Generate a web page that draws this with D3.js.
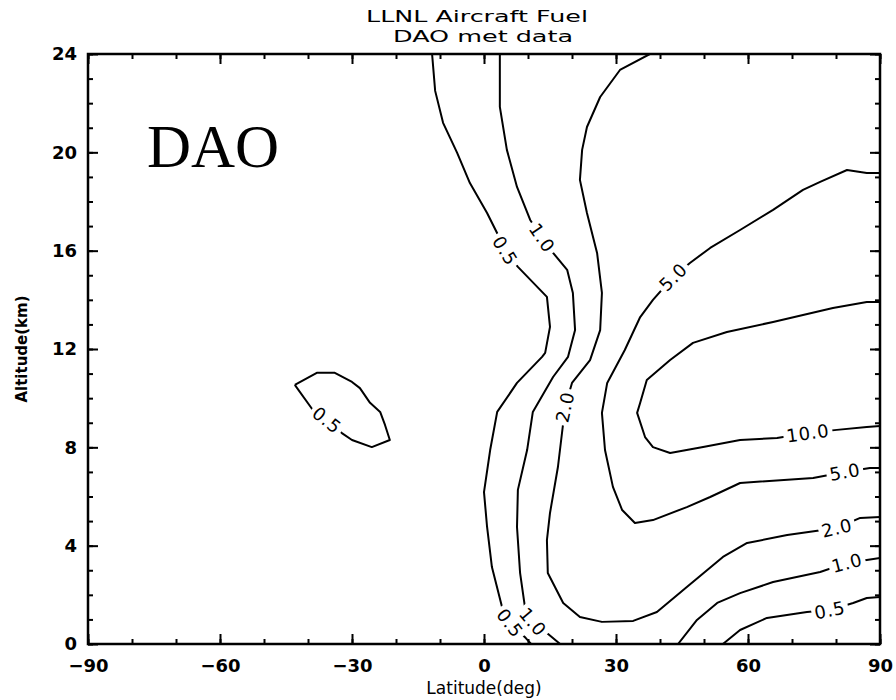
<!DOCTYPE html>
<html>
<head>
<meta charset="utf-8">
<script src="https://cdn.jsdelivr.net/npm/d3@7"></script>
<style>
  html, body { margin: 0; padding: 0; background: #fff; }
  svg { display: block; }
</style>
</head>
<body>
<svg id="chart" width="896" height="700"></svg>
<script>
// ---------------- data (latitude deg, altitude km) ----------------
const titleLines = ["LLNL Aircraft Fuel", "DAO met data"];
const xTicks = [-90, -60, -30, 0, 30, 60, 90];
const yTicks = [0, 4, 8, 12, 16, 20, 24];
const xLabel = "Latitude(deg)";
const yLabel = "Altitude(km)";
const panelLabel = "DAO";

const c05main = [[-11.8,24],[-11.1,22.5],[-9.3,21.2],[-6.1,19.98],[-3.2,18.75],[0.7,17.53],[3.2,16.64],[4.8,16.0],[7.7,15.34],[14.3,14.12],[15.0,12.9],[13.9,11.84],[13.2,11.68],[7.5,10.62],[3.0,9.44],[1.4,7.89],[0,6.18],[0.7,4.76],[1.8,3.13],[4.1,1.51],[5.9,0.85],[9.5,0.24],[10.7,0]];
const c10main = [[3.6,24],[3.6,21.85],[5.2,20.1],[7.5,18.59],[10.5,17.25],[13.2,16.52],[15.7,15.91],[18.9,15.22],[20.2,14.28],[20.7,12.77],[19.1,11.68],[15.7,10.86],[11.1,9.44],[9.8,7.89],[7.7,6.27],[7.5,4.76],[8.2,2.89],[9.3,1.51],[11.1,0.9],[14.3,0.45],[17.3,0]];
const c20 = [[37.7,24],[30.9,23.35],[26.4,22.25],[23.4,21.03],[22.3,20.1],[21.8,18.88],[23.4,17.53],[25.7,15.91],[26.8,14.28],[26.4,12.77],[24.1,11.55],[20.0,10.62],[18.4,9.64],[18.0,8.99],[16.8,7.2],[15.0,5.33],[14.3,4.23],[14.5,2.89],[18.0,1.67],[21.8,1.1],[26.8,0.9],[33.9,0.94],[39.3,1.3],[46.1,2.32],[54.3,3.54],[59.8,4.11],[68.9,4.43],[80.2,4.72],[85.5,5.13],[90,5.17]];
const c50 = [[90,19.16],[87.0,19.16],[82.5,19.28],[76.4,18.8],[72.5,18.47],[65.7,17.66],[58.2,16.84],[51.4,16.11],[46.8,15.5],[43.0,14.93],[38.4,14.0],[35.5,13.3],[32.0,11.96],[28.0,10.62],[26.8,9.4],[27.5,7.89],[29.3,6.39],[31.4,5.45],[34.3,4.92],[38.4,5.04],[46.1,5.57],[51.4,5.98],[58.2,6.55],[74.8,6.75],[82.0,7.0],[87.7,7.16],[90,7.16]];
const c100 = [[90,13.91],[87.0,13.91],[79.3,13.67],[65.7,13.1],[55.2,12.69],[47.5,12.25],[42.3,11.55],[37.0,10.74],[35.5,9.81],[34.8,9.4],[36.6,8.42],[38.4,8.01],[42.3,7.77],[49.8,8.01],[58.2,8.3],[66.6,8.38],[73.6,8.58],[80.2,8.71],[87.0,8.83],[90,8.87]];
const c10right = [[44.1,0],[48.4,0.98],[53.0,1.67],[58.2,2.07],[65.7,2.52],[76.4,2.93],[82.5,3.3],[87.0,3.42],[90,3.5]];
const c05right = [[54.3,0],[58.2,0.57],[64.3,1.06],[73.4,1.3],[78.6,1.38],[83.9,1.67],[87.0,1.87],[90,1.91]];
const c05island = [[-43.0,10.54],[-38.0,11.03],[-33.9,11.03],[-30.0,10.66],[-28.2,10.41],[-25.9,9.81],[-23.6,9.44],[-22.5,8.91],[-21.4,8.3],[-25.5,8.01],[-30.0,8.3],[-32.3,8.58],[-35.7,9.11],[-38.9,9.52]];

// level text and the index of the point where each label sits
const contours = [
  { level: "0.5",  pts: c05main,   labelAt: [7, 20], closed: false },
  { level: "1.0",  pts: c10main,   labelAt: [5, 18], closed: false },
  { level: "2.0",  pts: c20,       labelAt: [12, 27], closed: false },
  { level: "5.0",  pts: c50,       labelAt: [9, 24], closed: false },
  { level: "10.0", pts: c100,      labelAt: [16], closed: false },
  { level: "1.0",  pts: c10right,  labelAt: [6], closed: false },
  { level: "0.5",  pts: c05right,  labelAt: [4], closed: false },
  { level: "0.5",  pts: c05island, labelAt: [12], closed: true }
];

// ---------------- layout ----------------
const W = 896, H = 700;
const m = { left: 88, right: 16, top: 54, bottom: 56 };
const pw = W - m.left - m.right;   // 792
const ph = H - m.top - m.bottom;   // 590

const svg = d3.select("#chart");
const x = d3.scaleLinear().domain([-90, 90]).range([m.left, m.left + pw]);
const y = d3.scaleLinear().domain([0, 24]).range([m.top + ph, m.top]);

const tickFont = "'DejaVu Sans', 'Liberation Sans', sans-serif";

// title
svg.append("text").attr("x", x(0) - 7).attr("y", 22)
  .attr("text-anchor", "middle").attr("font-family", tickFont)
  .attr("font-size", 16).attr("textLength", 222).attr("lengthAdjust", "spacingAndGlyphs")
  .text(titleLines[0]);
svg.append("text").attr("x", x(0) - 1).attr("y", 42)
  .attr("text-anchor", "middle").attr("font-family", tickFont)
  .attr("font-size", 16).attr("textLength", 180).attr("lengthAdjust", "spacingAndGlyphs")
  .text(titleLines[1]);

// clip
svg.append("defs").append("clipPath").attr("id", "plotclip")
  .append("rect").attr("x", m.left).attr("y", m.top).attr("width", pw).attr("height", ph);

// contour lines
const line = d3.line().x(d => x(d[0])).y(d => y(d[1]));
const gLines = svg.append("g").attr("clip-path", "url(#plotclip)");
contours.forEach(c => {
  gLines.append("path")
    .attr("d", line(c.closed ? c.pts.concat([c.pts[0]]) : c.pts))
    .attr("fill", "none").attr("stroke", "#000").attr("stroke-width", 2)
    .attr("stroke-linejoin", "round");
});

// contour labels
const gLab = svg.append("g");
contours.forEach(c => {
  const n = c.pts.length;
  c.labelAt.forEach(i => {
    const p = c.pts[i];
    const a = c.pts[c.closed ? (i - 1 + n) % n : Math.max(0, i - 1)];
    const b = c.pts[c.closed ? (i + 1) % n : Math.min(n - 1, i + 1)];
    let ang = Math.atan2(y(b[1]) - y(a[1]), x(b[0]) - x(a[0])) * 180 / Math.PI;
    if (ang > 90) ang -= 180;
    if (ang < -90) ang += 180;
    const g = gLab.append("g").attr("transform", `translate(${x(p[0])},${y(p[1])}) rotate(${ang})`);
    const r = g.append("rect").attr("fill", "#fff");
    const t = g.append("text").attr("text-anchor", "middle").attr("dy", "0.36em")
      .attr("font-family", tickFont).attr("font-size", 18).attr("letter-spacing", 0.8)
      .text(c.level);
    const bb = t.node().getBBox();
    r.attr("x", bb.x - 3).attr("y", -7).attr("width", bb.width + 6).attr("height", 14);
  });
});

// axes
function styleAxis(g) {
  g.select(".domain").remove();
  g.selectAll(".tick line").attr("stroke", "#000").attr("stroke-width", 2);
  g.selectAll(".tick text").attr("font-family", tickFont).attr("font-weight", "bold")
    .attr("font-size", 18).attr("fill", "#000");
}
const xMinor = d3.range(-90, 91, 10);
const yMinor = d3.range(0, 25, 1);

// bottom
svg.append("g").attr("transform", `translate(0,${m.top + ph})`)
  .call(d3.axisBottom(x).tickValues(xMinor).tickSize(-5).tickFormat("")).call(styleAxis);
svg.append("g").attr("transform", `translate(0,${m.top + ph})`)
  .call(d3.axisBottom(x).tickValues(xTicks).tickSize(-10).tickPadding(15).tickFormat(d => d === 0 ? "0" : d3.format("d")(d).replace("-", "\u2212"))).call(styleAxis);
// top
svg.append("g").attr("transform", `translate(0,${m.top})`)
  .call(d3.axisTop(x).tickValues(xMinor).tickSize(-5).tickFormat("")).call(styleAxis);
svg.append("g").attr("transform", `translate(0,${m.top})`)
  .call(d3.axisTop(x).tickValues(xTicks).tickSize(-10).tickFormat("")).call(styleAxis);
// left
svg.append("g").attr("transform", `translate(${m.left},0)`)
  .call(d3.axisLeft(y).tickValues(yMinor).tickSize(-5).tickFormat("")).call(styleAxis);
svg.append("g").attr("transform", `translate(${m.left},0)`)
  .call(d3.axisLeft(y).tickValues(yTicks).tickSize(-10).tickPadding(11).tickFormat(d3.format("d"))).call(styleAxis);
// right
svg.append("g").attr("transform", `translate(${m.left + pw},0)`)
  .call(d3.axisRight(y).tickValues(yMinor).tickSize(-5).tickFormat("")).call(styleAxis);
svg.append("g").attr("transform", `translate(${m.left + pw},0)`)
  .call(d3.axisRight(y).tickValues(yTicks).tickSize(-10).tickFormat("")).call(styleAxis);

// frame
svg.append("rect").attr("x", m.left).attr("y", m.top).attr("width", pw).attr("height", ph)
  .attr("fill", "none").attr("stroke", "#000").attr("stroke-width", 2.5);

// axis titles
svg.append("text").attr("x", x(0)).attr("y", 694).attr("text-anchor", "middle")
  .attr("font-family", tickFont).attr("font-size", 17).text(xLabel);
svg.append("text").attr("transform", `translate(27,${y(12)}) rotate(-90)`)
  .attr("text-anchor", "middle").attr("font-family", tickFont).attr("font-weight", "bold")
  .attr("font-size", 15).text(yLabel);

// panel label
svg.append("text").attr("x", 147).attr("y", 167)
  .attr("font-family", "'Liberation Serif', 'Times New Roman', serif")
  .attr("font-size", 61).text(panelLabel);
</script>
</body>
</html>
